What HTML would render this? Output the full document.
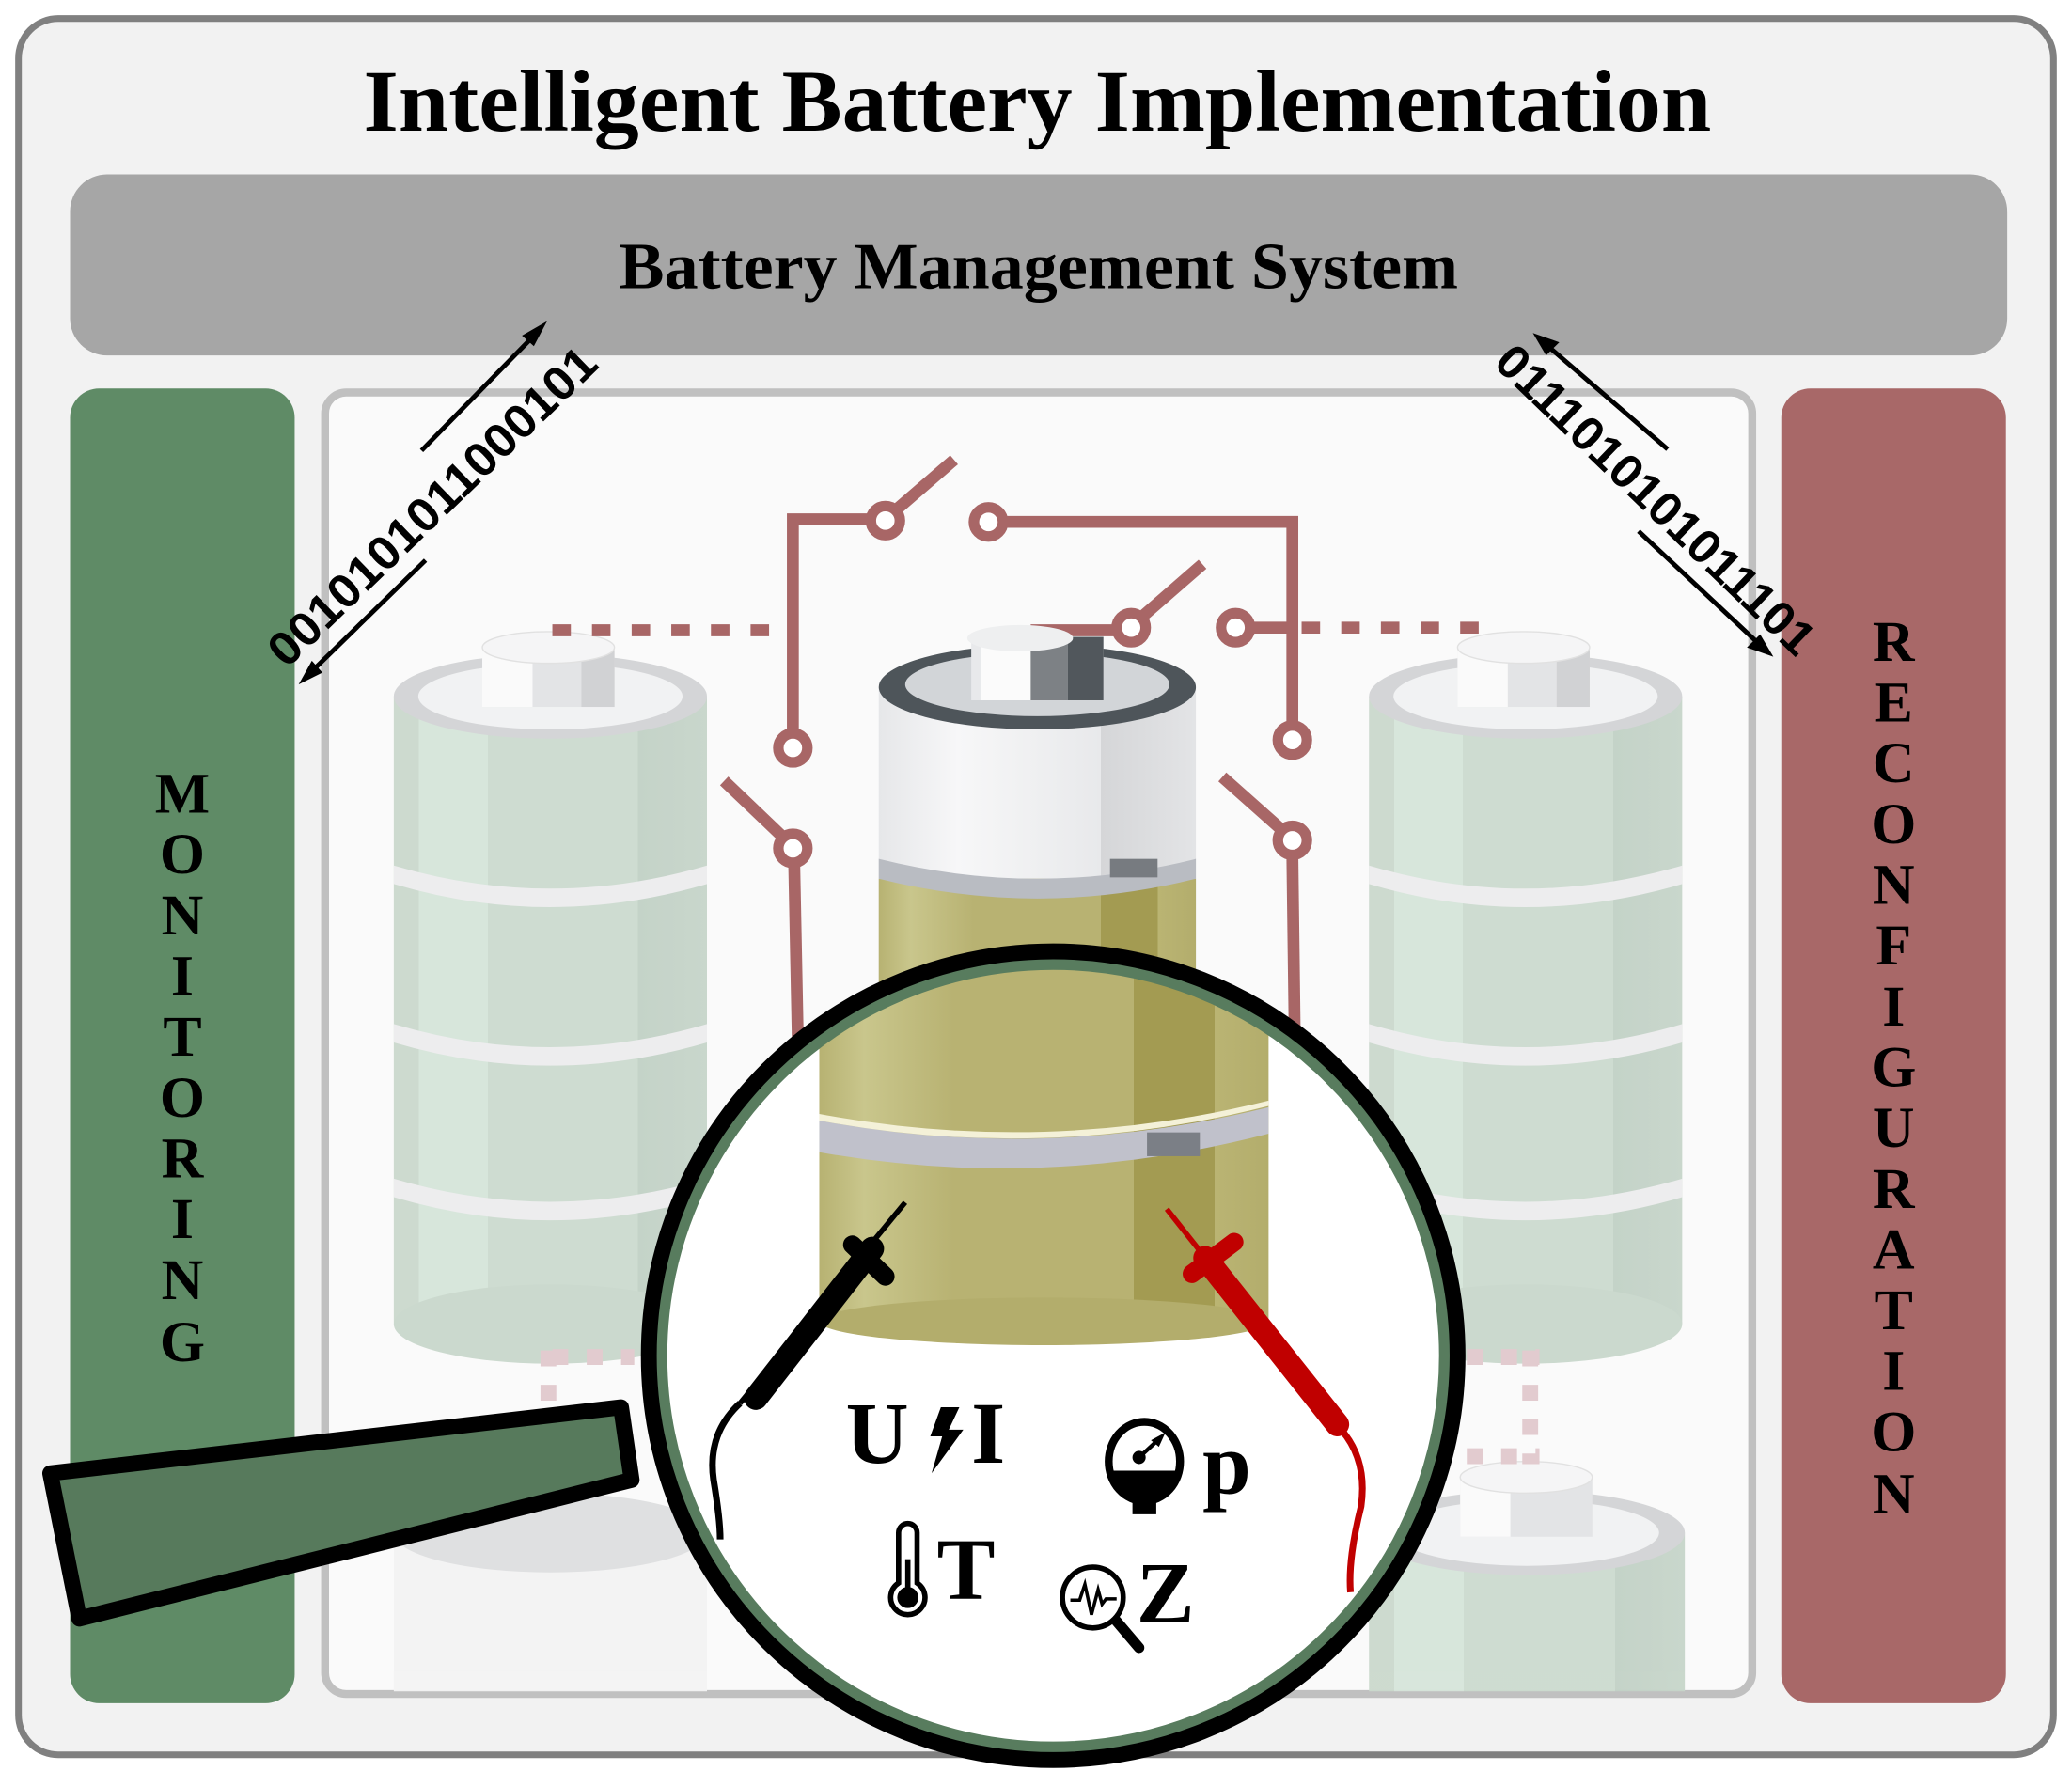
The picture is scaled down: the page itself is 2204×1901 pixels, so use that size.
<!DOCTYPE html>
<html><head><meta charset="utf-8"><style>html,body{margin:0;padding:0;background:#fff}svg{display:block}</style></head>
<body>
<svg width="2204" height="1901" viewBox="0 0 1568 1352.4" preserveAspectRatio="none" xmlns="http://www.w3.org/2000/svg">
<defs>
<clipPath id="lens"><circle cx="797" cy="1026" r="300"/></clipPath>
<linearGradient id="gb" x1="0" x2="1">
<stop offset="0" stop-color="#cbd9cd"/><stop offset="0.08" stop-color="#cbd9cd"/><stop offset="0.08" stop-color="#d6e5da"/><stop offset="0.3" stop-color="#d6e5da"/><stop offset="0.3" stop-color="#ccdbcf"/><stop offset="0.78" stop-color="#ccdbcf"/><stop offset="0.78" stop-color="#c2d1c6"/><stop offset="1" stop-color="#c7d6ca"/></linearGradient>
<linearGradient id="yb" x1="0" x2="1">
<stop offset="0" stop-color="#b7b272"/><stop offset="0.1" stop-color="#c9c68c"/><stop offset="0.3" stop-color="#b8b272"/><stop offset="0.7" stop-color="#b8b272"/><stop offset="0.7" stop-color="#a39b52"/><stop offset="0.88" stop-color="#a39b52"/><stop offset="0.88" stop-color="#bab473"/><stop offset="1" stop-color="#b3ad6c"/></linearGradient>
<linearGradient id="wb" x1="0" x2="1">
<stop offset="0" stop-color="#e6e7e9"/><stop offset="0.25" stop-color="#f7f7f8"/><stop offset="0.7" stop-color="#e8e9eb"/><stop offset="0.7" stop-color="#d5d6d8"/><stop offset="1" stop-color="#e3e4e6"/></linearGradient>
</defs>
<rect x="14" y="14" width="1540" height="1314" rx="30" fill="#f2f2f2" stroke="#808080" stroke-width="5"/>
<text x="785" y="99" text-anchor="middle" font-family="Liberation Serif, serif" font-weight="bold" font-size="66" textLength="1020" lengthAdjust="spacingAndGlyphs">Intelligent Battery Implementation</text>
<rect x="53" y="132" width="1466" height="137" rx="28" fill="#a6a6a6"/>
<text x="786" y="218" text-anchor="middle" font-family="Liberation Serif, serif" font-weight="bold" font-size="50" textLength="635" lengthAdjust="spacingAndGlyphs">Battery Management System</text>
<rect x="53" y="294" width="170" height="995" rx="22" fill="#5f8b66"/>
<rect x="1348" y="294" width="170" height="995" rx="22" fill="#a86868"/>
<g font-family="Liberation Serif, serif" font-weight="bold" font-size="44" text-anchor="middle">
<text x="138" y="615">M</text><text x="138" y="661">O</text><text x="138" y="707">N</text><text x="138" y="753">I</text><text x="138" y="799">T</text><text x="138" y="845">O</text><text x="138" y="891">R</text><text x="138" y="937">I</text><text x="138" y="983">N</text><text x="138" y="1030">G</text>
<text x="1433" y="500">R</text><text x="1433" y="546">E</text><text x="1433" y="592">C</text><text x="1433" y="638">O</text><text x="1433" y="684">N</text><text x="1433" y="730">F</text><text x="1433" y="776">I</text><text x="1433" y="822">G</text><text x="1433" y="868">U</text><text x="1433" y="914">R</text><text x="1433" y="960">A</text><text x="1433" y="1006">T</text><text x="1433" y="1052">I</text><text x="1433" y="1098">O</text><text x="1433" y="1145">N</text>
</g>
<rect x="246" y="297" width="1080" height="985" rx="16" fill="#fafafa" stroke="#c0c0c0" stroke-width="6"/>
<g id="sb" opacity="0.95">
<rect x="298" y="527" width="237" height="475" fill="url(#gb)"/>
<ellipse cx="416.5" cy="1002" rx="118.5" ry="30" fill="#c9d8cc"/>
<path d="M298 655 Q416 690 535 655 v14 Q416 704 298 669z" fill="#ededee"/>
<path d="M298 775 Q416 810 535 775 v14 Q416 824 298 789z" fill="#ededee"/>
<path d="M298 892 Q416 927 535 892 v14 Q416 941 298 906z" fill="#ededee"/>
<ellipse cx="416.5" cy="527" rx="118.5" ry="32" fill="#d3d4d6"/>
<ellipse cx="416.5" cy="527" rx="100" ry="25" fill="#f1f2f3"/>
<rect x="365" y="490" width="100" height="45" fill="#e2e3e5"/>
<rect x="365" y="490" width="38" height="45" fill="#fbfbfb"/>
<rect x="440" y="490" width="25" height="45" fill="#cfd0d2"/>
<ellipse cx="415" cy="490" rx="50" ry="12" fill="#f5f5f6" stroke="#e0e0e0"/>
</g>
<use href="#sb" x="738" y="0"/>
<g opacity="0.95">
<rect x="298" y="1160" width="237" height="120" fill="#f3f3f3"/>
<ellipse cx="416.5" cy="1160" rx="118.5" ry="30" fill="#dedfe0"/>
<rect x="1036" y="1160" width="239" height="120" fill="url(#gb)"/>
<ellipse cx="1155.5" cy="1160" rx="119.5" ry="32" fill="#d3d4d6"/>
<ellipse cx="1155.5" cy="1160" rx="100" ry="25" fill="#f1f2f3"/>
<rect x="1105" y="1118" width="100" height="45" fill="#e2e3e5"/>
<rect x="1105" y="1118" width="38" height="45" fill="#fbfbfb"/>
<ellipse cx="1155" cy="1118" rx="50" ry="12" fill="#f5f5f6" stroke="#e0e0e0"/>
</g>
<g stroke="#e2cbcf" stroke-width="12" stroke-dasharray="12 14" fill="none">
<path d="M415 1022 V1062"/><path d="M418 1027 H480"/>
<path d="M1158 1022 V1108"/><path d="M1110 1027 H1165"/><path d="M1110 1102 H1165"/>
</g>
<g stroke="#a86666" stroke-width="9" fill="none">
<path d="M418 477 H590" stroke-dasharray="14 16"/>
<path d="M985 475 H1135" stroke-dasharray="14 16"/>
<path d="M600 555 V393 H660"/>
<path d="M678 386 L722 348"/>
<path d="M760 395 H978 V550"/>
<path d="M780 477 H845"/>
<path d="M864 467 L910 427"/>
<path d="M946 475 H978"/>
<path d="M548 591 L592 633"/>
<path d="M601 652 L604 800"/>
<path d="M925 588 L970 628"/>
<path d="M978 647 L980 800"/>
</g>
<g stroke="#a86666" stroke-width="8" fill="#fff">
<circle cx="670" cy="394" r="11"/><circle cx="748" cy="395" r="11"/>
<circle cx="856" cy="475" r="11"/><circle cx="935" cy="475" r="11"/>
<circle cx="600" cy="566" r="11"/><circle cx="978" cy="560" r="11"/>
<circle cx="600" cy="642" r="11"/><circle cx="978" cy="636" r="11"/>
</g>
<rect x="665" y="520" width="240" height="470" fill="url(#wb)"/>
<rect x="665" y="665" width="240" height="330" fill="url(#yb)"/>
<path d="M665 650 Q785 680 905 650 v15 Q785 695 665 665z" fill="#b9bcc2"/>
<rect x="840" y="650" width="36" height="14" fill="#777b80"/>
<ellipse cx="785" cy="520" rx="120" ry="32" fill="#4e555a"/>
<ellipse cx="785" cy="518" rx="100" ry="24" fill="#d2d5d8"/>
<rect x="735" y="482" width="100" height="48" fill="#e8e9eb"/>
<rect x="742" y="482" width="38" height="48" fill="#fbfbfb"/>
<rect x="780" y="482" width="28" height="48" fill="#7d8185"/>
<rect x="808" y="482" width="27" height="48" fill="#51575c"/>
<ellipse cx="772" cy="483" rx="40" ry="10" fill="#eeeff0"/>
<circle cx="797" cy="1026" r="300" fill="#fff"/>
<g clip-path="url(#lens)">
<rect x="620" y="700" width="340" height="300" fill="url(#yb)"/>
<ellipse cx="790" cy="1000" rx="170" ry="18" fill="#b3ad6c"/>
<path d="M620 848 Q790 880 960 838 v20 Q790 902 620 872z" fill="#c0c1cb"/>
<path d="M620 843 Q790 875 960 833 v4 Q790 880 620 848z" fill="#f4f1d8"/>
<rect x="868" y="857" width="40" height="18" fill="#7b7f86"/>
</g>
<circle cx="797" cy="1026" r="297" fill="none" stroke="#587c5e" stroke-width="10"/>
<circle cx="797" cy="1026" r="306" fill="none" stroke="#000" stroke-width="12"/>
<g>
<path d="M685 910 L560 1062" stroke="#000" stroke-width="4"/>
<path d="M660 945 L572 1058" stroke="#000" stroke-width="18" stroke-linecap="round"/>
<path d="M645 942 L670 966" stroke="#000" stroke-width="14" stroke-linecap="round"/>
<path d="M560 1062 Q535 1085 540 1120 Q545 1150 545 1165" stroke="#000" stroke-width="5" fill="none"/>
<path d="M883 915 L1015 1082" stroke="#c00000" stroke-width="4"/>
<path d="M912 952 L1012 1078" stroke="#c00000" stroke-width="18" stroke-linecap="round"/>
<path d="M902 964 L934 940" stroke="#c00000" stroke-width="14" stroke-linecap="round"/>
<path d="M1015 1082 Q1035 1105 1030 1140 Q1020 1180 1022 1205" stroke="#c00000" stroke-width="5" fill="none"/>
</g>
<g font-family="Liberation Serif, serif" font-weight="bold" fill="#000">
<text x="640" y="1107" font-size="66">U</text>
<path d="M712 1065 L726 1065 L718 1082 L729 1082 L705 1115 L713 1087 L704 1087z"/>
<text x="735" y="1107" font-size="66">I</text>
<text x="910" y="1130" font-size="66">p</text>
<text x="709" y="1210" font-size="66">T</text>
<text x="860" y="1228" font-size="66">Z</text>
</g>
<g>
<ellipse cx="866" cy="1106" rx="27" ry="30" fill="none" stroke="#000" stroke-width="6"/>
<path d="M841 1113 H892 Q885 1134 866 1134 Q847 1134 841 1113z"/>
<rect x="857" y="1133" width="18" height="13"/>
<circle cx="862" cy="1103" r="5"/>
<path d="M862 1103 L875 1091" stroke="#000" stroke-width="3"/>
<path d="M871 1090 L882 1084 L877 1095z"/>
</g>
<g fill="none" stroke="#000" stroke-width="4">
<path d="M680 1160 a5 5 0 0 1 14 0 v38 a13 13 0 1 1 -14 0z"/>
<path d="M687 1180 v24" stroke-width="4"/>
</g>
<circle cx="687" cy="1209" r="8"/>
<g fill="none" stroke="#000" stroke-width="4">
<circle cx="827" cy="1209" r="23"/>
<path d="M810 1211 H817 L821 1199 L826 1222 L831 1203 L834 1214 L837 1210 H845" stroke-width="2.5"/>
</g>
<path d="M845 1227 L862 1247" stroke="#000" stroke-width="8" stroke-linecap="round"/>
<path d="M38 1115 L470 1065 L478 1120 L60 1225z" fill="#577a5c" stroke="#000" stroke-width="12" stroke-linejoin="round"/>
<g stroke="#000" stroke-width="3.5" fill="none">
<path d="M319 341 L406 252"/><path d="M322 424 L234 510"/>
<path d="M1262 340 L1168 259"/><path d="M1240 402 L1334 490"/>
</g>
<g fill="#000">
<path d="M414 243 L395 254 L404 262z"/>
<path d="M226 518 L236 500 L244 509z"/>
<path d="M1160 252 L1180 259 L1170 269z"/>
<path d="M1342 497 L1322 490 L1332 480z"/>
</g>
<g font-family="Liberation Sans, sans-serif" font-weight="bold" font-size="36">
<text x="0" y="0" text-anchor="middle" dominant-baseline="central" transform="translate(327 383) rotate(-44)" textLength="330" lengthAdjust="spacingAndGlyphs">0010101011000101</text>
<text x="0" y="0" text-anchor="middle" dominant-baseline="central" transform="translate(1253 378) rotate(44)" textLength="320" lengthAdjust="spacingAndGlyphs">0111010101011101</text>
</g>
</svg>
</body></html>
